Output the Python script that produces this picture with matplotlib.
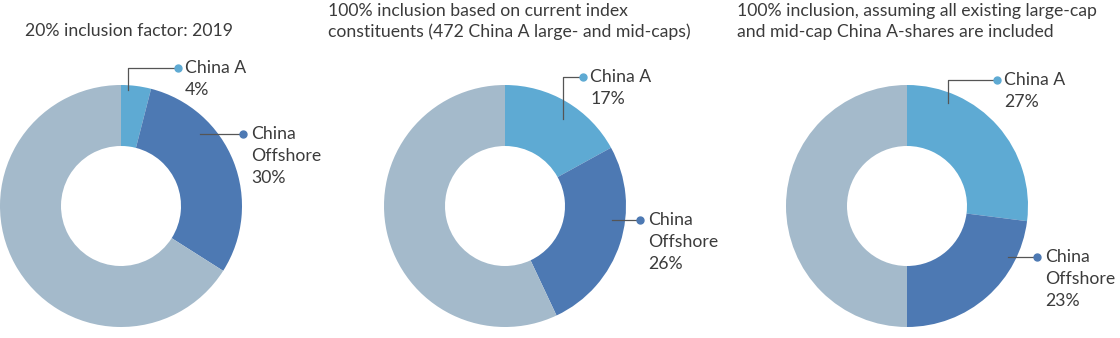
import matplotlib.pyplot as plt

plt.rcParams['font.family'] = ['Lato', 'DejaVu Sans']

# data
titles = [
    ["20% inclusion factor: 2019"],
    ["100% inclusion based on current index",
     "constituents (472 China A large- and mid-caps)"],
    ["100% inclusion, assuming all existing large-cap",
     "and mid-cap China A-shares are included"],
]
china_a = [4, 17, 27]
china_offshore = [30, 26, 23]
rest = [100 - a - b for a, b in zip(china_a, china_offshore)]

colors = ["#5eaad3", "#4d79b3", "#a4bacb"]
text_color = "#3b3b3b"
line_color = "#555555"
fs = 12.7

W, H = 1120, 338
fig = plt.figure(figsize=(W / 100, H / 100), dpi=100)
ax = fig.add_axes([0, 0, 1, 1])

# layout in pixel coords (y from top)
centers_x = [121, 505, 907]
center_y = 206
R, r_in = 121, 60
title_pos = [(25, 31), (328, 11), (737, 11)]
# (line start x, line start y, dot x, dot y) for China A (elbow) and Offshore (straight)
a_lines = [(128, 90, 178, 68), (563, 119, 583, 77), (948, 103, 997, 80)]
off_lines = [(200, 134, 243, 134), (612, 220, 640, 220), (1008, 257, 1037, 257)]

def Y(py):
    return H - py

for i in range(3):
    vals = [china_a[i], china_offshore[i], rest[i]]
    ax.pie(vals, colors=colors, startangle=90, counterclock=False,
           center=(centers_x[i], Y(center_y)), radius=R,
           wedgeprops=dict(width=R - r_in, linewidth=0))

    tx, ty = title_pos[i]
    for k, line in enumerate(titles[i]):
        ax.text(tx, Y(ty + 21 * k), line, fontsize=fs, color=text_color,
                ha="left", va="center")

    # China A label with elbow line
    x0, y0, x1, y1 = a_lines[i]
    ax.plot([x0, x0, x1], [Y(y0), Y(y1), Y(y1)], color=line_color, lw=0.9)
    ax.plot(x1, Y(y1), "o", color=colors[0], ms=5)
    ax.text(x1 + 7, Y(y1), "China A", fontsize=fs, color=text_color,
            ha="left", va="center")
    ax.text(x1 + 7, Y(y1 + 22), f"{china_a[i]}%", fontsize=fs,
            color=text_color, ha="left", va="center")

    # China Offshore label with straight line
    x0, y0, x1, y1 = off_lines[i]
    ax.plot([x0, x1], [Y(y0), Y(y1)], color=line_color, lw=0.9)
    ax.plot(x1, Y(y1), "o", color=colors[1], ms=5)
    for k, s in enumerate(["China", "Offshore", f"{china_offshore[i]}%"]):
        ax.text(x1 + 8, Y(y1 + 22 * k), s, fontsize=fs, color=text_color,
                ha="left", va="center")

ax.set_xlim(0, W)
ax.set_ylim(0, H)
ax.set_aspect("auto")
ax.axis("off")

fig.savefig("out.png", dpi=100, facecolor="white")
